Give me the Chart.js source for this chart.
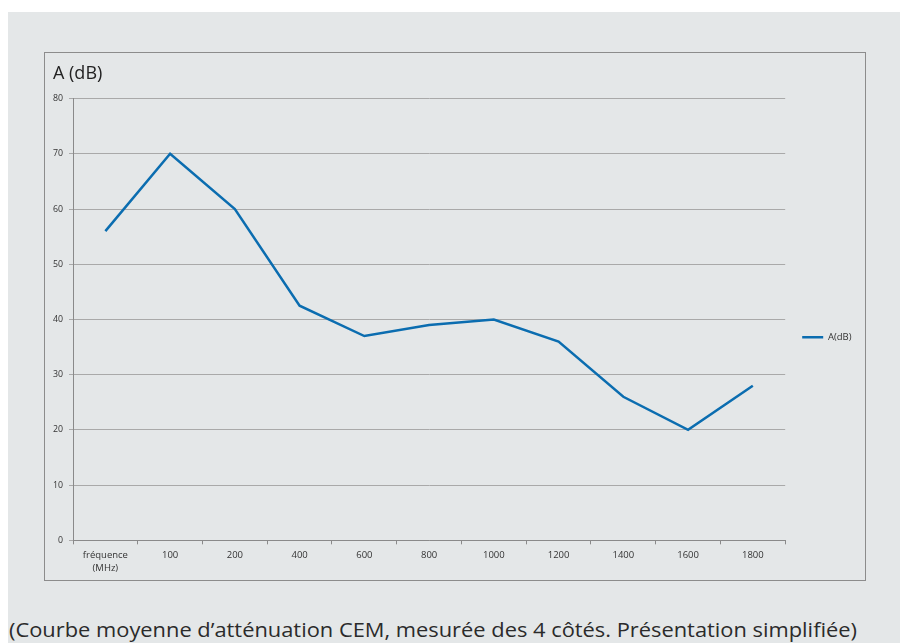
<!DOCTYPE html>
<html>
<head>
<meta charset="utf-8">
<script src="https://cdn.jsdelivr.net/npm/chart.js@4.4.0/dist/chart.umd.min.js"></script>
<style>
  html, body { margin: 0; padding: 0; background: #ffffff; }
  body { width: 909px; height: 643px; position: relative; overflow: hidden; font-family: "Open Sans", sans-serif; }
  #panel { position: absolute; left: 8px; top: 12px; width: 892px; height: 640px; background: #e4e7e8; }
  #box { position: absolute; left: 44px; top: 52px; width: 820px; height: 527px; border: 1px solid #8c8c8c; }
  #caption { position: absolute; left: 9px; top: 616px; font-size: 20px; color: #2b2b2b; white-space: nowrap; transform-origin: left top; }
</style>
</head>
<body>
<div id="panel"></div>
<div id="box"><canvas id="chart"></canvas></div>
<div id="caption">(Courbe moyenne d’atténuation CEM, mesurée des 4 côtés. Présentation simplifiée)</div>
<script>
  // Data
  const categories = [['fréquence', '(MHz)'], '100', '200', '400', '600', '800', '1000', '1200', '1400', '1600', '1800'];
  const attenuation = [56, 70, 60, 42.5, 37, 39, 40, 36, 26, 20, 28];
  const seriesLabel = 'A(dB)';
  const axisTitle = 'A (dB)';

  const lineColor = '#0b6db0';
  const gridColor = '#a9a9a9';
  const axisColor = '#8a8a8a';
  const textColor = '#333333';
  const xFont = { family: '"Open Sans", sans-serif', size: 9.5, lineHeight: 1.34 };
  const yFont = { family: '"Open Sans", sans-serif', size: 8.8 };

  // Fit the caption to the width it has in the reference
  const caption = document.getElementById('caption');
  caption.style.transform = 'scaleX(' + (848 / caption.getBoundingClientRect().width) + ')';

  const ctx = document.getElementById('chart').getContext('2d');
  new Chart(ctx, {
    type: 'line',
    data: {
      labels: categories,
      datasets: [{
        label: seriesLabel,
        data: attenuation,
        borderColor: lineColor,
        backgroundColor: lineColor,
        borderWidth: 2.5,
        pointRadius: 0,
        tension: 0,
        fill: false
      }]
    },
    options: {
      responsive: true,
      maintainAspectRatio: false,
      animation: false,
      layout: { padding: { left: 8, right: 3.5, top: 0, bottom: 1 } },
      plugins: {
        title: {
          display: true,
          text: axisTitle,
          align: 'start',
          color: '#222222',
          font: { family: '"Open Sans", sans-serif', size: 18, weight: 'normal', lineHeight: 1.2 },
          padding: { top: 10, bottom: 14 }
        },
        legend: {
          position: 'right',
          fullSize: false,
          title: { display: true, text: '', padding: { top: 21, bottom: 0 } },
          labels: {
            usePointStyle: true,
            pointStyle: 'line',
            pointStyleWidth: 21,
            padding: 17,
            color: textColor,
            font: xFont
          }
        },
        tooltip: { enabled: false }
      },
      scales: {
        x: {
          offset: true,
          grid: { offset: true, drawOnChartArea: false, drawTicks: true, tickLength: 4, color: axisColor },
          border: { color: axisColor },
          ticks: { color: textColor, font: xFont, padding: 4.6, maxRotation: 0, autoSkip: false }
        },
        y: {
          min: 0,
          max: 80,
          grid: { color: gridColor, tickLength: 4 },
          border: { color: axisColor },
          ticks: { stepSize: 10, color: textColor, font: yFont, padding: 6 },
          afterFit: scale => { scale.width = 20; }
        }
      }
    }
  });
</script>
</body>
</html>
